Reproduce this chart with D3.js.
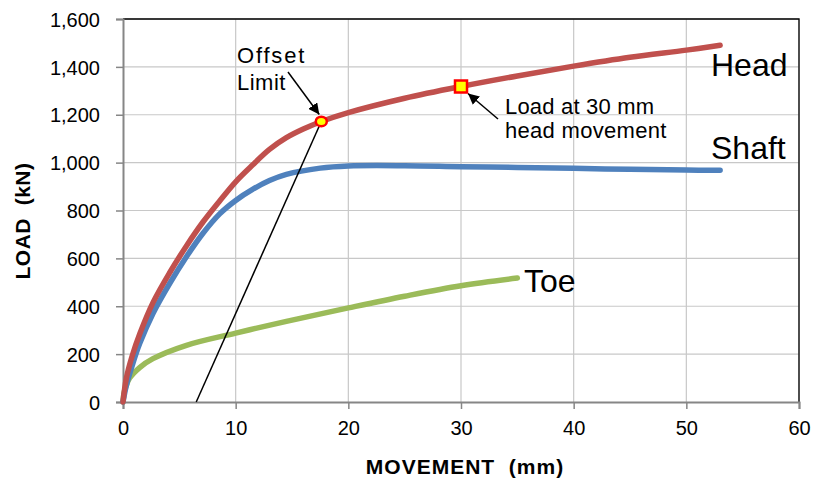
<!DOCTYPE html>
<html>
<head>
<meta charset="utf-8">
<script src="https://cdn.jsdelivr.net/npm/d3@7"></script>
<style>
    body { margin: 0; background: #fff; }
    text { font-family: "Liberation Sans", Arial, sans-serif; fill: #000; white-space: pre; }
</style>
</head>
<body>
<script>
// movement (mm) / load (kN)
const headX = [0, 0.3, 0.8, 1.5, 2.66, 4.14, 5.63, 7.1, 8.58, 10, 11.5, 13, 14.5, 16, 17.6, 20, 25, 30, 35, 40, 45, 50, 53];
const headY = [0, 100, 190, 286, 415, 540, 652, 752, 840, 920, 990, 1055, 1104, 1140, 1172, 1209, 1269, 1318, 1362, 1403, 1440, 1470, 1490];

const shaftX = [0, 0.3, 0.8, 1.48, 2.66, 4.14, 5.63, 7.1, 8.58, 10, 11.5, 13, 14.5, 17.5, 20, 25, 30, 35, 40, 45, 50, 53];
const shaftY = [0, 70, 150, 244, 370, 495, 607, 705, 786, 842, 888, 925, 951, 977, 986, 987, 983, 980, 976, 972, 969, 968];

const toeX = [0, 0.1, 0.3, 0.59, 1.48, 2.66, 5.63, 10, 14.5, 20, 25, 30, 35];
const toeY = [0, 40, 70, 100, 144, 181, 237, 288, 337, 393, 442, 486, 518];

const offsetLine = [[6.5, 0], [17.6, 1172]];
const offsetPoint = [17.6, 1172];
const point30 = [30, 1318];

const xTicks = [0, 10, 20, 30, 40, 50, 60];
const yTicks = [0, 200, 400, 600, 800, 1000, 1200, 1400, 1600];

const width = 816;
const height = 478;
const margin = {left: 123, right: 17, top: 19, bottom: 76};

const svg = d3.select('body')
    .append('svg')
    .attr('width', width)
    .attr('height', height);

const x = d3.scaleLinear().domain([0, 60]).range([margin.left, width - margin.right]);
const y = d3.scaleLinear().domain([0, 1600]).range([height - margin.bottom, margin.top]);

// grid
svg.append('g')
    .selectAll('line')
    .data(xTicks.slice(1))
    .enter()
    .append('line')
    .attr('x1', d => x(d)).attr('x2', d => x(d))
    .attr('y1', y(0)).attr('y2', y(1600))
    .attr('stroke', '#c8c8c8').attr('stroke-width', 1.2);

svg.append('g')
    .selectAll('line')
    .data(yTicks.slice(1))
    .enter()
    .append('line')
    .attr('x1', x(0)).attr('x2', x(60))
    .attr('y1', d => y(d)).attr('y2', d => y(d))
    .attr('stroke', '#c8c8c8').attr('stroke-width', 1.2);

// top and right frame
svg.append('path')
    .attr('d', `M${x(0)},${y(1600)}H${x(60)}V${y(0)}`)
    .attr('fill', 'none')
    .attr('stroke', '#000')
    .attr('stroke-width', 1.3);

// axes
const xAxis = svg.append('g')
    .attr('transform', `translate(0,${y(0)})`)
    .call(d3.axisBottom(x).tickValues(xTicks).tickSize(7).tickPadding(12));

const yAxis = svg.append('g')
    .attr('transform', `translate(${x(0)},0)`)
    .call(d3.axisLeft(y).tickValues(yTicks).tickSize(7).tickPadding(16).tickFormat(d3.format(',')));

[xAxis, yAxis].forEach(a =>
{
    a.select('.domain').attr('stroke', '#868686').attr('stroke-width', 2);
    a.selectAll('.tick line').attr('stroke', '#868686').attr('stroke-width', 1.5);
    a.selectAll('.tick text').style('font-size', '20px').attr('fill', '#000');
});
yAxis.selectAll('.tick text').attr('dy', '0.36em');

// axis titles
svg.append('text')
    .attr('x', 465)
    .attr('y', 474)
    .attr('text-anchor', 'middle')
    .style('font-size', '21px')
    .style('font-weight', 'bold')
    .style('letter-spacing', '1px')
    .text('MOVEMENT  (mm)');

svg.append('text')
    .attr('transform', `translate(30,221) rotate(-90)`)
    .attr('text-anchor', 'middle')
    .style('font-size', '21px')
    .style('font-weight', 'bold')
    .style('letter-spacing', '0.5px')
    .text('LOAD  (kN)');

// curves
const line = d3.line()
    .x(d => x(d[0]))
    .y(d => y(d[1]))
    .curve(d3.curveCatmullRom.alpha(0.5));

const series = [
    {xs: toeX, ys: toeY, color: '#9bbb59'},
    {xs: shaftX, ys: shaftY, color: '#4f81bd'},
    {xs: headX, ys: headY, color: '#c0504d'}
];

series.forEach(s =>
{
    svg.append('path')
        .datum(s.xs.map((v, i) => [v, s.ys[i]]))
        .attr('d', line)
        .attr('fill', 'none')
        .attr('stroke', s.color)
        .attr('stroke-width', 5.5)
        .attr('stroke-linecap', 'round')
        .attr('stroke-linejoin', 'round');
});

// offset line
svg.append('line')
    .attr('x1', x(offsetLine[0][0])).attr('y1', y(offsetLine[0][1]))
    .attr('x2', x(offsetLine[1][0])).attr('y2', y(offsetLine[1][1]))
    .attr('stroke', '#000')
    .attr('stroke-width', 1.5);

// arrowheads
svg.append('defs')
    .append('marker')
    .attr('id', 'arrow')
    .attr('viewBox', '0 0 10 10')
    .attr('refX', 10).attr('refY', 5)
    .attr('markerWidth', 11).attr('markerHeight', 11)
    .attr('markerUnits', 'userSpaceOnUse')
    .attr('orient', 'auto')
    .append('path')
    .attr('d', 'M0,0L10,5L0,10z')
    .attr('fill', '#000');

// annotation arrows
svg.append('line')
    .attr('x1', 288).attr('y1', 72)
    .attr('x2', x(offsetPoint[0]) - 2).attr('y2', y(offsetPoint[1]) - 7)
    .attr('stroke', '#000').attr('stroke-width', 1.5)
    .attr('marker-end', 'url(#arrow)');

svg.append('line')
    .attr('x1', 498).attr('y1', 119)
    .attr('x2', x(point30[0]) + 7).attr('y2', y(point30[1]) + 7)
    .attr('stroke', '#000').attr('stroke-width', 1.5)
    .attr('marker-end', 'url(#arrow)');

// markers
svg.append('ellipse')
    .attr('cx', x(offsetPoint[0])).attr('cy', y(offsetPoint[1]))
    .attr('rx', 5.5).attr('ry', 4.8)
    .attr('fill', '#ffff00')
    .attr('stroke', '#ff0000')
    .attr('stroke-width', 2.5);

svg.append('rect')
    .attr('x', x(point30[0]) - 6).attr('y', y(point30[1]) - 6)
    .attr('width', 12).attr('height', 12)
    .attr('fill', '#ffff00')
    .attr('stroke', '#ff0000')
    .attr('stroke-width', 2.5);

// labels
const labels = [
    {text: 'Offset', x: 237, y: 63, size: 22, spacing: 1.8},
    {text: 'Limit', x: 237, y: 90, size: 22, spacing: 0.5},
    {text: 'Load at 30 mm', x: 505, y: 114, size: 22, spacing: 0.2},
    {text: 'head movement', x: 505, y: 138, size: 22, spacing: 0.3},
    {text: 'Head', x: 711, y: 76, size: 32, spacing: 0},
    {text: 'Shaft', x: 711, y: 159, size: 32, spacing: 0},
    {text: 'Toe', x: 524, y: 292, size: 32, spacing: 0}
];

svg.selectAll('text.lbl')
    .data(labels)
    .enter()
    .append('text')
    .attr('class', 'lbl')
    .attr('x', d => d.x)
    .attr('y', d => d.y)
    .style('font-size', d => d.size + 'px')
    .style('letter-spacing', d => d.spacing + 'px')
    .text(d => d.text);
</script>
</body>
</html>
